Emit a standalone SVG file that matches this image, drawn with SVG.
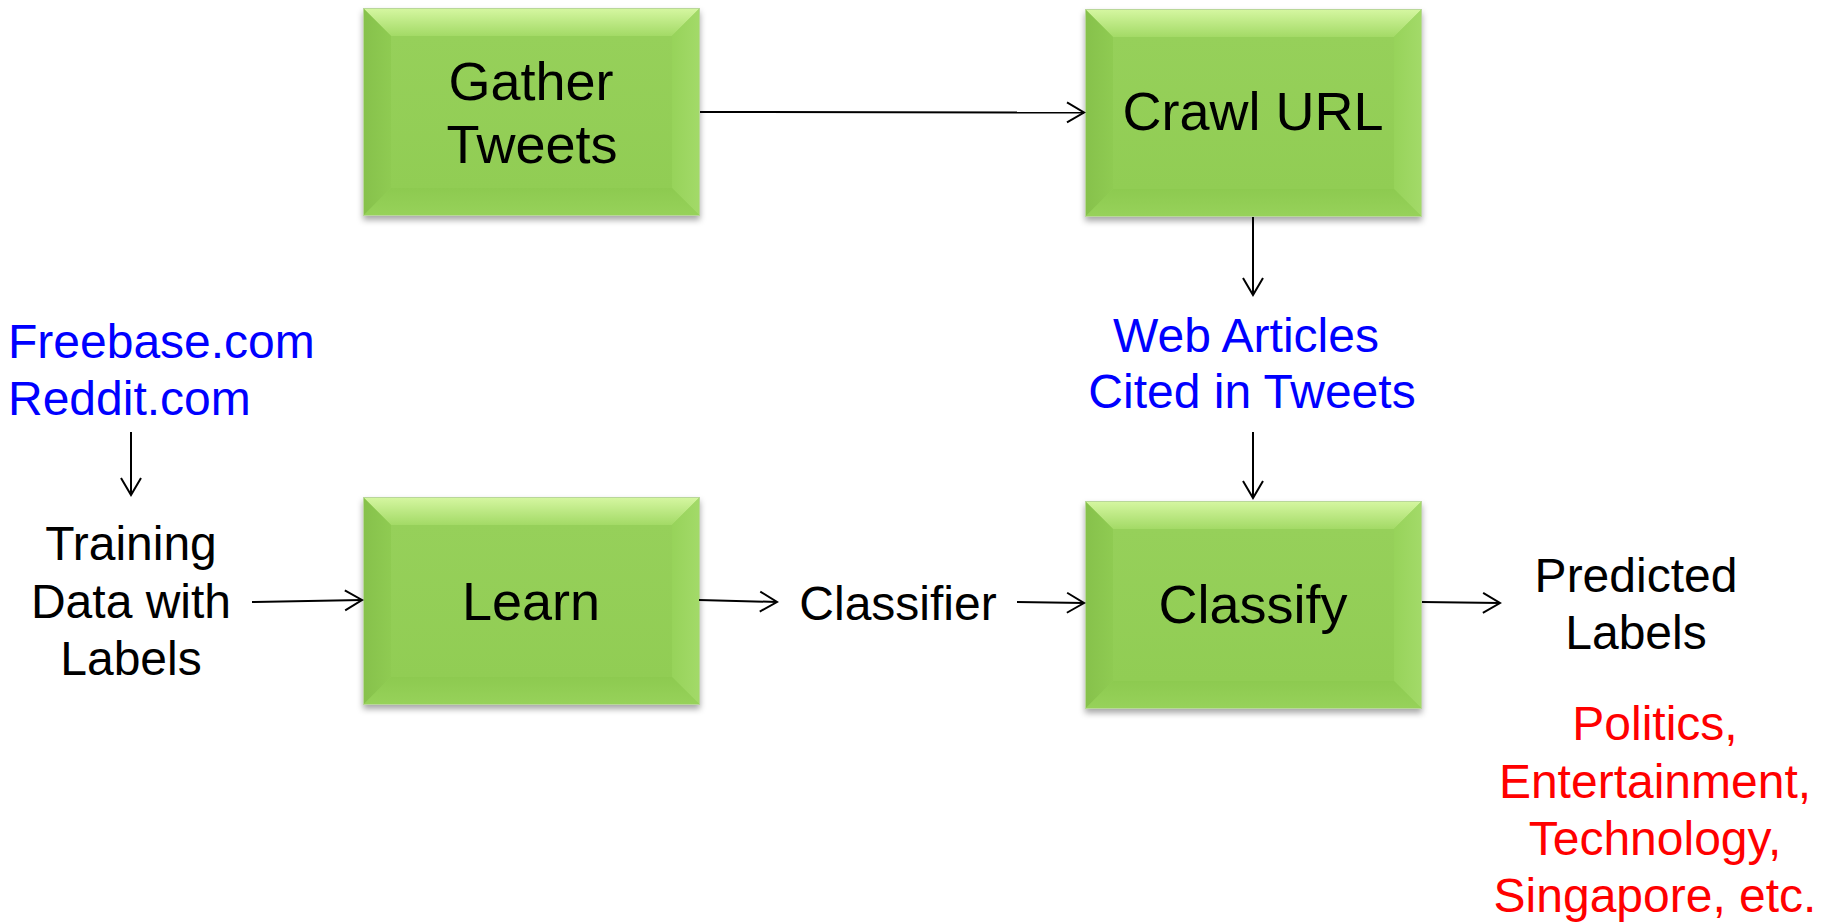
<svg xmlns="http://www.w3.org/2000/svg" xmlns:xlink="http://www.w3.org/1999/xlink" width="1822" height="923" viewBox="0 0 1822 923">
  <defs>
    <style>
      .txt { font-family: "Liberation Sans", Arial, sans-serif; }
      .box-label { font-size: 54px; fill: #000; text-anchor: middle; }
      .label { font-size: 48px; fill: #000; text-anchor: middle; }
      .blue { fill: #0000FF; }
      .red { fill: #FF0000; }
      .conn { stroke: #000; stroke-width: 2; fill: none; marker-end: url(#openArrow); }
    </style>
    <marker id="openArrow" viewBox="-20 -12 22 24" refX="0" refY="0" markerWidth="22" markerHeight="24" markerUnits="userSpaceOnUse" orient="auto">
      <path d="M -17 -10 L 0 0 L -17 10" fill="none" stroke="#000" stroke-width="2"/>
    </marker>
    <filter id="shadow" x="-10%" y="-10%" width="120%" height="125%">
      <feDropShadow dx="0" dy="4" stdDeviation="3" flood-color="#000" flood-opacity="0.35"/>
    </filter>
    <linearGradient id="gTop" x1="0" y1="0" x2="0" y2="1">
      <stop offset="0" stop-color="#d6f7a2"/>
      <stop offset="1" stop-color="#a3da66"/>
    </linearGradient>
    <linearGradient id="gLeft" x1="0" y1="0" x2="1" y2="0">
      <stop offset="0" stop-color="#86c14b"/>
      <stop offset="1" stop-color="#8fcb52"/>
    </linearGradient>
    <linearGradient id="gRight" x1="0" y1="0" x2="1" y2="0">
      <stop offset="0" stop-color="#97d35a"/>
      <stop offset="1" stop-color="#a3da69"/>
    </linearGradient>
    <linearGradient id="gBottom" x1="0" y1="0" x2="0" y2="1">
      <stop offset="0" stop-color="#8dca50"/>
      <stop offset="1" stop-color="#97d25a"/>
    </linearGradient>
    <linearGradient id="gFace" x1="0" y1="0" x2="0" y2="1">
      <stop offset="0" stop-color="#96d05a"/>
      <stop offset="1" stop-color="#91cd54"/>
    </linearGradient>
    <!-- bevelled green process box, 337 x 208 -->
    <symbol id="bevelBox" viewBox="0 0 337 208" width="337" height="208" overflow="visible">
      <g filter="url(#shadow)">
        <rect x="0" y="0" width="337" height="208" fill="#92cf55"/>
      </g>
      <polygon points="0,0 337,0 309,28 28,28" fill="url(#gTop)"/>
      <polygon points="0,0 28,28 28,180 0,208" fill="url(#gLeft)"/>
      <polygon points="337,0 337,208 309,180 309,28" fill="url(#gRight)"/>
      <polygon points="0,208 28,180 309,180 337,208" fill="url(#gBottom)"/>
      <rect x="28" y="28" width="281" height="152" fill="url(#gFace)"/>
      <rect x="0.5" y="0.5" width="336" height="207" fill="none" stroke="#b9d79a" stroke-width="1"/>
    </symbol>
  </defs>

  <rect width="1822" height="923" fill="#ffffff"/>

  <!-- process boxes -->
  <g id="gather-tweets">
    <use xlink:href="#bevelBox" x="363" y="8"/>
    <text class="txt box-label" x="531" y="100">Gather</text>
    <text class="txt box-label" x="532" y="163">Tweets</text>
  </g>
  <g id="crawl-url">
    <use xlink:href="#bevelBox" x="1085" y="9"/>
    <text class="txt box-label" x="1253" y="130">Crawl URL</text>
  </g>
  <g id="learn">
    <use xlink:href="#bevelBox" x="363" y="497"/>
    <text class="txt box-label" x="531" y="620">Learn</text>
  </g>
  <g id="classify">
    <use xlink:href="#bevelBox" x="1085" y="501"/>
    <text class="txt box-label" x="1253" y="623">Classify</text>
  </g>

  <!-- data labels -->
  <g id="sources">
    <text class="txt blue" x="8" y="358" font-size="48">Freebase.com</text>
    <text class="txt blue" x="8" y="415" font-size="48">Reddit.com</text>
  </g>
  <g id="training-data">
    <text class="txt label" x="131" y="560">Training</text>
    <text class="txt label" x="131" y="618">Data with</text>
    <text class="txt label" x="131" y="675">Labels</text>
  </g>
  <g id="web-articles">
    <text class="txt label blue" x="1246" y="352">Web Articles</text>
    <text class="txt label blue" x="1252" y="408">Cited in Tweets</text>
  </g>
  <g id="classifier">
    <text class="txt label" x="898" y="620">Classifier</text>
  </g>
  <g id="predicted-labels">
    <text class="txt label" x="1636" y="592">Predicted</text>
    <text class="txt label" x="1636" y="649">Labels</text>
  </g>
  <g id="label-examples">
    <text class="txt label red" x="1655" y="740">Politics,</text>
    <text class="txt label red" x="1655" y="798">Entertainment,</text>
    <text class="txt label red" x="1655" y="855">Technology,</text>
    <text class="txt label red" x="1655" y="912">Singapore, etc.</text>
  </g>

  <!-- connectors -->
  <g id="connectors">
    <line class="conn" x1="700" y1="112" x2="1084" y2="112.5"/>
    <line class="conn" x1="1253" y1="217" x2="1253" y2="295"/>
    <line class="conn" x1="1253" y1="432" x2="1253" y2="498"/>
    <line class="conn" x1="131" y1="432" x2="131" y2="495"/>
    <line class="conn" x1="252" y1="602" x2="362" y2="600"/>
    <line class="conn" x1="699" y1="600" x2="777" y2="602"/>
    <line class="conn" x1="1017" y1="602" x2="1084" y2="603"/>
    <line class="conn" x1="1422" y1="602" x2="1500" y2="603"/>
  </g>
</svg>
